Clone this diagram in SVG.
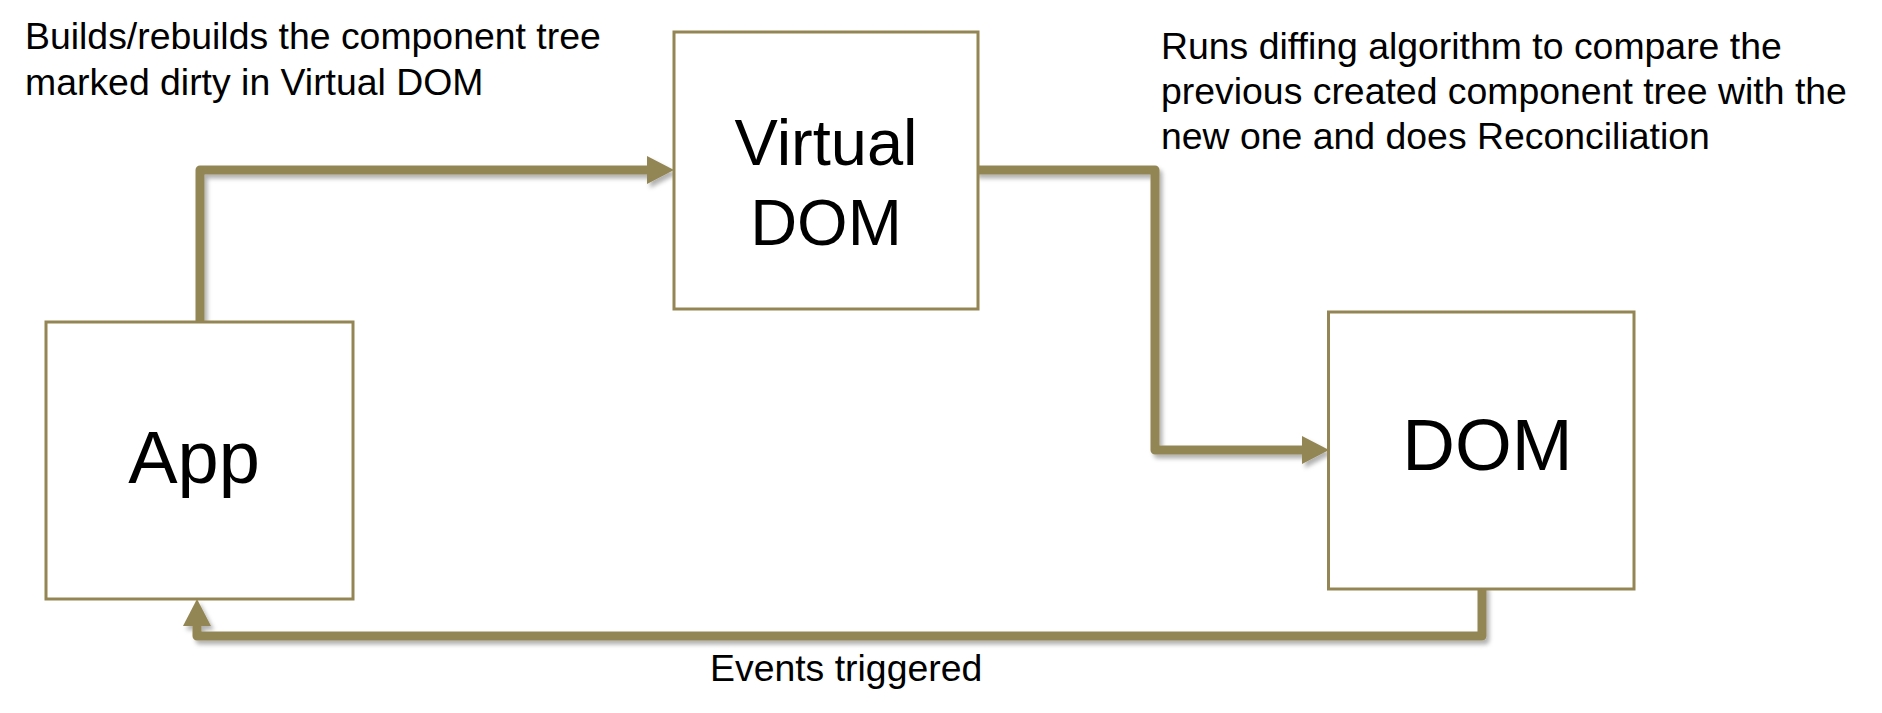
<svg xmlns="http://www.w3.org/2000/svg" width="1882" height="713" viewBox="0 0 1882 713">
  <style>
    .box { fill: #ffffff; stroke: #938654; stroke-width: 3; }
    .lbl { font-family: "Liberation Sans", Arial, sans-serif; fill: #000000; }
    .note { font-family: "Liberation Sans", Arial, sans-serif; font-size: 37.4px; fill: #000000; }
    .conn { fill: none; stroke: #938654; stroke-width: 9; stroke-linejoin: round; stroke-linecap: round; }
  </style>
  <defs>
    <filter id="shadow" x="-10%" y="-10%" width="120%" height="130%">
      <feDropShadow dx="3" dy="4" stdDeviation="2" flood-color="#000000" flood-opacity="0.3"/>
    </filter>
    <marker id="arrow" markerUnits="userSpaceOnUse" markerWidth="27" markerHeight="28" refX="0" refY="14" orient="auto">
      <path d="M0,0 L27,14 L0,28 Z" fill="#938654"/>
    </marker>
  </defs>
  <rect width="1882" height="713" fill="#ffffff"/>

  <g id="connectors" filter="url(#shadow)">
    <path class="conn" d="M200,322 V170 H647" marker-end="url(#arrow)"/>
    <path class="conn" d="M978,170 H1155 V450 H1302" marker-end="url(#arrow)"/>
    <path class="conn" d="M1482,588 V636 H197 V626" marker-end="url(#arrow)"/>
  </g>

  <g id="app">
    <rect class="box" x="46" y="322" width="307" height="277"/>
    <text class="lbl" x="194" y="483" font-size="74" text-anchor="middle">App</text>
  </g>

  <g id="virtual-dom">
    <rect class="box" x="674" y="32" width="304" height="277"/>
    <text class="lbl" x="826" y="165" font-size="65" text-anchor="middle">Virtual</text>
    <text class="lbl" x="826" y="245" font-size="65" text-anchor="middle">DOM</text>
  </g>

  <g id="dom">
    <rect class="box" x="1328.5" y="312" width="305.5" height="277"/>
    <text class="lbl" x="1487.5" y="470" font-size="73" text-anchor="middle">DOM</text>
  </g>

  <g id="note-build">
    <text class="note" x="25" y="49">Builds/rebuilds the component tree</text>
    <text class="note" x="25" y="95">marked dirty in Virtual DOM</text>
  </g>

  <g id="note-diff">
    <text class="note" x="1161" y="59">Runs diffing algorithm to compare the</text>
    <text class="note" x="1161" y="104">previous created component tree with the</text>
    <text class="note" x="1161" y="149">new one and does Reconciliation</text>
  </g>

  <g id="note-events">
    <text class="note" x="710" y="681">Events triggered</text>
  </g>
</svg>
